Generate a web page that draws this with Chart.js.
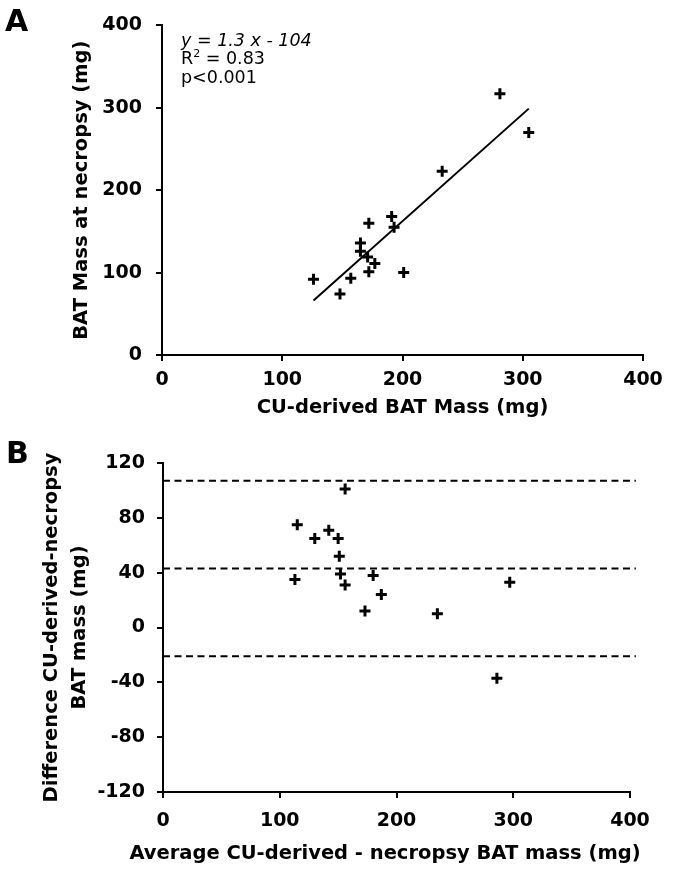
<!DOCTYPE html>
<html>
<head>
<meta charset="utf-8">
<script src="https://cdn.jsdelivr.net/npm/chart.js@4"></script>
<style>
  html, body { margin: 0; padding: 0; background: #fff; }
  body { width: 675px; height: 870px; position: relative; overflow: hidden; font-family: "DejaVu Sans", Verdana, sans-serif; }
  .wrap { position: absolute; left: 0; width: 675px; }
  .letter { position: absolute; font-weight: bold; font-size: 30px; color: #000; line-height: 1; }
  .note { position: absolute; left: 181px; top: 31px; font-size: 17.5px; line-height: 18.3px; color: #000; }
  .xtitle { position: absolute; left: 100px; width: 570px; text-align: center; font-weight: bold; font-size: 19.5px; line-height: 24px; color: #000; white-space: nowrap; }
</style>
</head>
<body>
<div class="wrap" style="top:0;height:420px"><canvas id="chartA" width="675" height="420"></canvas></div>
<div class="wrap" style="top:420px;height:450px"><canvas id="chartB" width="675" height="450"></canvas></div>
<div class="letter" style="left:5px;top:6px">A</div>
<div class="letter" style="left:6px;top:438px">B</div>
<div class="note"><i>y = 1.3 x - 104</i><br>R<sup style="font-size:11px;vertical-align:7px;line-height:0">2</sup> = 0.83<br>p&lt;0.001</div>
<div class="xtitle" id="xtitleB" style="top:841px"></div>
<script>
// ---- Data ----
const cuDerived = [126, 148, 157, 172, 191, 193, 165, 165, 171, 177, 172, 201, 281, 305, 233];
const necropsy  = [92, 74, 93, 160, 168, 155, 136, 126, 119, 111, 101, 100, 317, 270, 223];
const fitX = [126, 305];
const fitY = [66, 299];
const avgMass  = [156, 115, 130, 142, 150, 151, 152, 156, 113, 180, 187, 173, 235, 297, 286];
const diffMass = [101, 75, 65, 71, 65, 52, 39, 31, 35, 38, 24, 12, 10, 33, -37];
const limits = [107, 43, -21];
const xTicksA = [0, 100, 200, 300, 400];
const yTicksA = [0, 100, 200, 300, 400];
const xTicksB = [0, 100, 200, 300, 400];
const yTicksB = [-120, -80, -40, 0, 40, 80, 120];
const titleAx = 'CU-derived BAT Mass (mg)';
const titleAy = 'BAT Mass at necropsy (mg)';
const titleBx = 'Average CU-derived - necropsy BAT mass (mg)';
const titleBy = ['Difference CU-derived-necropsy', 'BAT mass (mg)'];

document.getElementById('xtitleB').textContent = titleBx;

const FONT = '"DejaVu Sans", Verdana, sans-serif';
const tickFont = { family: FONT, size: 19, weight: 'bold' };
const titleFont = { family: FONT, size: 19.5, weight: 'bold' };

function axis(opts) {
  return Object.assign({
    type: 'linear',
    border: { display: true, color: '#000', width: 2 },
    grid: { drawOnChartArea: false, drawTicks: true, color: '#000', lineWidth: 2, tickLength: 6 },
    ticks: { color: '#000', font: tickFont, autoSkip: false }
  }, opts);
}

function ticksFrom(arr) {
  return function(scale) {
    scale.ticks = arr.map(v => ({ value: v }));
  };
}

// ---- Chart A ----
new Chart(document.getElementById('chartA'), {
  type: 'scatter',
  data: {
    datasets: [
      {
        data: cuDerived.map((x, i) => ({ x: x, y: necropsy[i] })),
        pointStyle: 'cross', pointRadius: 5.5, pointBorderWidth: 3,
        borderColor: '#000', backgroundColor: '#000'
      },
      {
        type: 'line',
        data: fitX.map((x, i) => ({ x: x, y: fitY[i] })),
        borderColor: '#000', borderWidth: 2, pointRadius: 0, fill: false
      }
    ]
  },
  options: {
    responsive: false, animation: false,
    layout: { padding: { top: 25, right: 32, left: 0, bottom: 0 } },
    plugins: { legend: { display: false }, tooltip: { enabled: false } },
    scales: {
      x: axis({
        min: 0, max: 400,
        afterBuildTicks: ticksFrom(xTicksA),
        afterFit: s => { s.height = 65; },
        ticks: { color: '#000', font: tickFont, padding: 8, autoSkip: false, maxRotation: 0 },
        title: { display: true, text: titleAx, color: '#000',
                 font: titleFont, padding: { top: 0, bottom: 0 } }
      }),
      y: axis({
        min: 0, max: 400,
        afterBuildTicks: ticksFrom(yTicksA),
        afterFit: s => { s.width = 162; },
        ticks: { color: '#000', font: tickFont, padding: 14, autoSkip: false },
        title: { display: true, text: titleAy, color: '#000',
                 font: titleFont, padding: { top: 70, bottom: 0 } }
      })
    }
  }
});

// ---- Chart B ----
const dashed = limits.map(v => ({
  type: 'line',
  data: [{ x: 0, y: v }, { x: 405, y: v }],
  borderColor: '#000', borderWidth: 2, borderDash: [7, 4.5], pointRadius: 0, fill: false
}));

new Chart(document.getElementById('chartB'), {
  type: 'scatter',
  data: {
    datasets: [
      {
        data: avgMass.map((x, i) => ({ x: x, y: diffMass[i] })),
        pointStyle: 'cross', pointRadius: 5.5, pointBorderWidth: 3,
        borderColor: '#000', backgroundColor: '#000'
      }
    ].concat(dashed)
  },
  options: {
    responsive: false, animation: false,
    clip: false,
    layout: { padding: { top: 43, right: 45, left: 0, bottom: 0 } },
    plugins: { legend: { display: false }, tooltip: { enabled: false } },
    scales: {
      x: axis({
        min: 0, max: 400,
        afterBuildTicks: ticksFrom(xTicksB),
        afterFit: s => { s.height = 78; },
        ticks: { color: '#000', font: tickFont, padding: 12, autoSkip: false, maxRotation: 0 },
        title: { display: false }
      }),
      y: axis({
        min: -120, max: 120,
        afterBuildTicks: ticksFrom(yTicksB),
        afterFit: s => { s.width = 163; },
        ticks: { color: '#000', font: tickFont, padding: 12, autoSkip: false },
        title: { display: true, text: titleBy, color: '#000',
                 font: Object.assign({}, titleFont, { lineHeight: 1.44 }), padding: { top: 38, bottom: 0 } }
      })
    }
  }
});
</script>
</body>
</html>
